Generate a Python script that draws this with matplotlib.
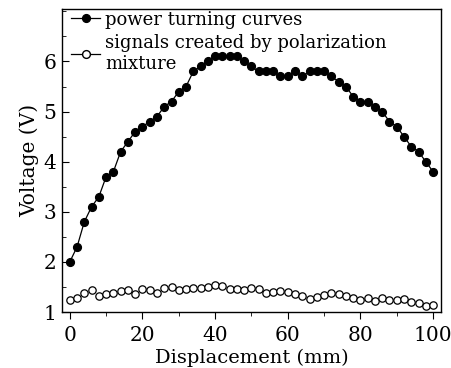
import numpy as np
import matplotlib
matplotlib.use("Agg")
import matplotlib.pyplot as plt
from matplotlib.lines import Line2D
from matplotlib.ticker import MultipleLocator

plt.rcParams['font.family'] = ['DejaVu Serif']
plt.rcParams['mathtext.fontset'] = 'dejavuserif'

# displacement (mm)
disp = np.arange(0, 101, 2)

# power turning curves (V)
power = [2.0, 2.3, 2.8, 3.1, 3.3, 3.7, 3.8, 4.2, 4.4, 4.6,
         4.7, 4.8, 4.9, 5.1, 5.2, 5.4, 5.5, 5.8, 5.9, 6.0,
         6.1, 6.1, 6.1, 6.1, 6.0, 5.9, 5.8, 5.8, 5.8, 5.7,
         5.7, 5.8, 5.7, 5.8, 5.8, 5.8, 5.7, 5.6, 5.5, 5.3,
         5.2, 5.2, 5.1, 5.0, 4.8, 4.7, 4.5, 4.3, 4.2, 4.0,
         3.8]

# signals created by polarization mixture (V)
mixture = [1.25, 1.29, 1.39, 1.45, 1.32, 1.36, 1.39, 1.42, 1.44, 1.37,
           1.47, 1.44, 1.39, 1.49, 1.51, 1.44, 1.47, 1.49, 1.49, 1.51,
           1.53, 1.52, 1.47, 1.46, 1.44, 1.49, 1.46, 1.39, 1.41, 1.42,
           1.41, 1.36, 1.32, 1.27, 1.31, 1.35, 1.39, 1.36, 1.33, 1.29,
           1.24, 1.28, 1.23, 1.28, 1.25, 1.25, 1.27, 1.21, 1.19, 1.13,
           1.15]

fig = plt.figure(figsize=(4.51, 3.68), dpi=100)
ax = fig.add_axes([0.137, 0.152, 0.841, 0.824])

ax.plot(disp, power, '-o', color='black', lw=0.9, ms=5.6, mfc='black')
ax.plot(disp, mixture, 'o', color='black', ls='none', ms=5.3, mfc='white', mew=0.9)

ax.set_xlim(-2.2, 102.2)
ax.set_ylim(1, 7.05)
ax.xaxis.set_major_locator(MultipleLocator(20))
ax.xaxis.set_minor_locator(MultipleLocator(10))
ax.yaxis.set_major_locator(MultipleLocator(1))
ax.yaxis.set_minor_locator(MultipleLocator(0.5))
ax.tick_params(axis='x', which='both', direction='out', labelsize=14.5, pad=5)
ax.tick_params(axis='x', which='major', length=5)
ax.tick_params(axis='x', which='minor', length=3)
ax.tick_params(axis='y', which='both', direction='in', labelsize=14.5, pad=4)
ax.tick_params(axis='y', which='major', length=5)
ax.tick_params(axis='y', which='minor', length=3)
ax.set_yticks([1, 2, 3, 4, 5, 6])
for s in ax.spines.values():
    s.set_linewidth(1.0)

ax.set_xlabel('Displacement (mm)', fontsize=14, labelpad=3)
ax.set_ylabel('Voltage (V)', fontsize=14.5, labelpad=3)

handles = [
    Line2D([], [], color='black', lw=0.9, marker='o', ms=5.6, mfc='black'),
    Line2D([], [], color='black', lw=0.9, marker='o', ms=5.6, mfc='white'),
]
ax.legend(handles, ['power turning curves',
                    'signals created by polarization\nmixture'],
          loc='upper left', frameon=False, fontsize=13, handlelength=1.6,
          handletextpad=0.3, borderaxespad=0.0, labelspacing=0.3,
          borderpad=0.1, bbox_to_anchor=(0.02, 1.0))

fig.savefig('out.png', dpi=100)
